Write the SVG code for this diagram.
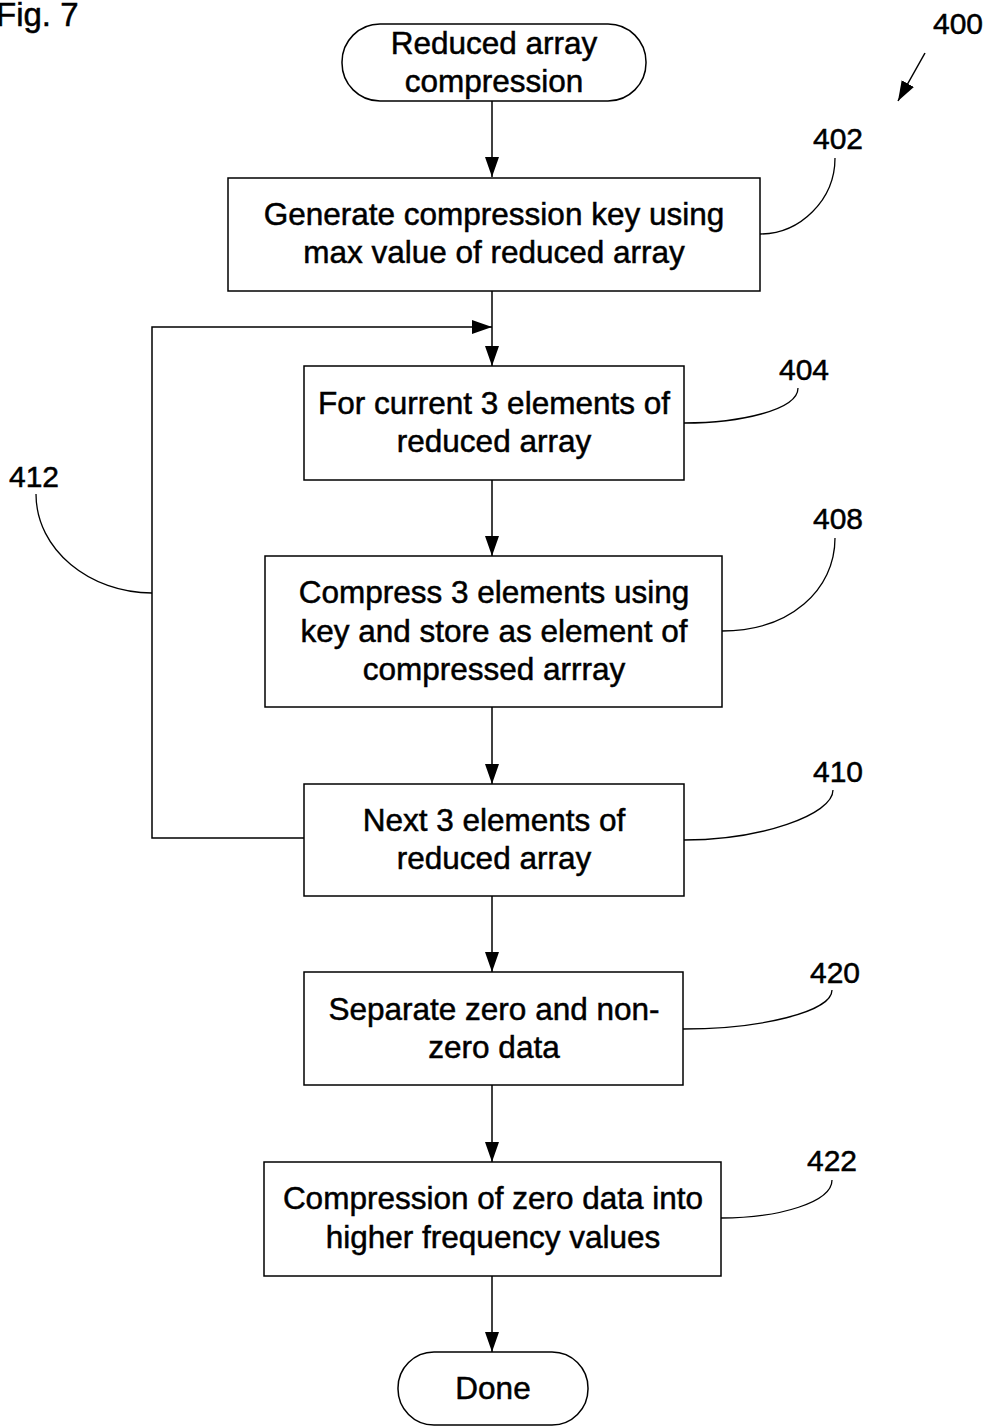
<svg xmlns="http://www.w3.org/2000/svg" width="989" height="1427" viewBox="0 0 989 1427">
<defs>
<marker id="ah" viewBox="0 0 20 14" refX="20" refY="7" markerWidth="20" markerHeight="14" markerUnits="userSpaceOnUse" orient="auto">
<path d="M0,0 L20,7 L0,14 Z" fill="#000"/>
</marker>
</defs>
<style>
.box{fill:#fff;stroke:#000;stroke-width:1.5}
.t{font-family:"Liberation Sans",Arial,sans-serif;font-size:31.5px;fill:#000;stroke:#000;stroke-width:0.5;text-anchor:middle}
.lbl{font-family:"Liberation Sans",Arial,sans-serif;font-size:30px;fill:#000;stroke:#000;stroke-width:0.5;text-anchor:middle}
.c{fill:none;stroke:#000;stroke-width:1.5}
.ld{fill:none;stroke:#000;stroke-width:1.3}
</style>
<rect width="989" height="1427" fill="#fff"/>
<text x="-4" y="26" font-family="Liberation Sans, Arial, sans-serif" font-size="33" fill="#000" stroke="#000" stroke-width="0.5">Fig. 7</text>
<g id="connectors">
<line class="c" x1="492" y1="101" x2="492" y2="177" marker-end="url(#ah)"/>
<line class="c" x1="492" y1="291" x2="492" y2="366" marker-end="url(#ah)"/>
<polyline class="c" points="304,838 152,838 152,327 492,327" marker-end="url(#ah)"/>
<line class="c" x1="492" y1="480" x2="492" y2="556" marker-end="url(#ah)"/>
<line class="c" x1="492" y1="707" x2="492" y2="784" marker-end="url(#ah)"/>
<line class="c" x1="492" y1="896" x2="492" y2="972" marker-end="url(#ah)"/>
<line class="c" x1="492" y1="1085" x2="492" y2="1162" marker-end="url(#ah)"/>
<line class="c" x1="492" y1="1276" x2="492" y2="1352" marker-end="url(#ah)"/>
<line class="c" x1="925" y1="53" x2="898" y2="101" marker-end="url(#ah)"/>
</g>
<g id="leaders">
<path class="ld" d="M835,158 C835,200 800,234 760,234"/>
<path class="ld" d="M798,388 C798,410 740,423 684,423"/>
<path class="ld" d="M835,538 C835,590 790,631 722,631"/>
<path class="ld" d="M833,790 C833,815 760,840 684,840"/>
<path class="ld" d="M832,990 C832,1012 760,1029 683,1029"/>
<path class="ld" d="M832,1180 C832,1202 780,1218 721,1218"/>
<path class="ld" d="M36,494 C36,550 90,593 152,593"/>
</g>
<g id="n400"><text class="lbl" x="958" y="34">400</text></g>
<g id="start">
<rect class="box" x="342" y="24" width="304" height="77" rx="38" ry="38"/>
<text class="t" x="494" y="54">Reduced array</text>
<text class="t" x="494" y="92">compression</text>
</g>
<g id="n402">
<rect class="box" x="228" y="178" width="532" height="113"/>
<text class="t" x="494" y="225">Generate compression key using</text>
<text class="t" x="494" y="263">max value of reduced array</text>
<text class="lbl" x="838" y="149">402</text>
</g>
<g id="n404">
<rect class="box" x="304" y="366" width="380" height="114"/>
<text class="t" x="494" y="414">For current 3 elements of</text>
<text class="t" x="494" y="452">reduced array</text>
<text class="lbl" x="804" y="380">404</text>
</g>
<g id="n408">
<rect class="box" x="265" y="556" width="457" height="151"/>
<text class="t" x="494" y="603">Compress 3 elements using</text>
<text class="t" x="494" y="642">key and store as element of</text>
<text class="t" x="494" y="680">compressed arrray</text>
<text class="lbl" x="838" y="529">408</text>
</g>
<g id="n410">
<rect class="box" x="304" y="784" width="380" height="112"/>
<text class="t" x="494" y="831">Next 3 elements of</text>
<text class="t" x="494" y="869">reduced array</text>
<text class="lbl" x="838" y="782">410</text>
</g>
<g id="n412"><text class="lbl" x="34" y="487">412</text></g>
<g id="n420">
<rect class="box" x="304" y="972" width="379" height="113"/>
<text class="t" x="494" y="1020">Separate zero and non-</text>
<text class="t" x="494" y="1058">zero data</text>
<text class="lbl" x="835" y="983">420</text>
</g>
<g id="n422">
<rect class="box" x="264" y="1162" width="457" height="114"/>
<text class="t" x="493" y="1209">Compression of zero data into</text>
<text class="t" x="493" y="1248">higher frequency values</text>
<text class="lbl" x="832" y="1171">422</text>
</g>
<g id="done">
<rect class="box" x="398" y="1352" width="190" height="73" rx="36" ry="36"/>
<text class="t" x="493" y="1399">Done</text>
</g>
</svg>
